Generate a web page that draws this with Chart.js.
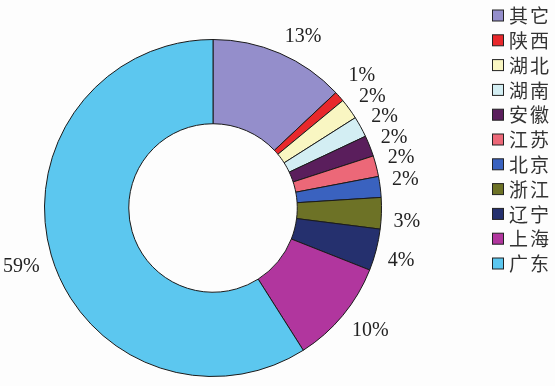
<!DOCTYPE html>
<html>
<head>
<meta charset="utf-8">
<script src="https://cdn.jsdelivr.net/npm/chart.js@4.4.0/dist/chart.umd.min.js"></script>
<style>
  html, body { margin: 0; padding: 0; background: #fdfdfd; }
  #wrap { width: 555px; height: 386px; position: relative; }
</style>
</head>
<body>
<div id="wrap"><canvas id="c" width="555" height="386"></canvas></div>
<script>
// ---- data ----
const categories = ['其它', '陕西', '湖北', '湖南', '安徽', '江苏', '北京', '浙江', '辽宁', '上海', '广东'];
const shares = [13, 1, 2, 2, 2, 2, 2, 3, 4, 10, 59];
const valueLabels = ['13%', '1%', '2%', '2%', '2%', '2%', '2%', '3%', '4%', '10%', '59%'];
const sliceColors = ['#948ecb', '#e8282c', '#f9f6c2', '#d3eef3', '#5a1e5c', '#ec6878', '#3a62bf', '#6d7226', '#25306e', '#b1369e', '#5cc7ef'];

const labelPlugin = {
  id: 'outLabels',
  afterDatasetsDraw(chart) {
    const ctx = chart.ctx;
    const meta = chart.getDatasetMeta(0);
    const font = '20px "Liberation Serif", "Times New Roman", serif';
    ctx.save();
    ctx.font = font;
    ctx.fillStyle = '#222';
    ctx.textAlign = 'center';
    ctx.textBaseline = 'middle';
    const items = [];
    meta.data.forEach((arc, i) => {
      const p = arc.getProps(['x', 'y', 'startAngle', 'endAngle', 'outerRadius'], true);
      const mid = (p.startAngle + p.endAngle) / 2;
      const r = p.outerRadius + 12;
      const ax = p.x + Math.cos(mid) * r;
      const ay = p.y + Math.sin(mid) * r;
      const text = chart.data.datasets[0].datalabelText[i];
      const w = ctx.measureText(text).width;
      const h = 14;
      const cx = ax + (Math.cos(mid) >= 0 ? w / 2 : -w / 2);
      const cy = ay + (Math.sin(mid) >= 0 ? h / 2 : -h / 2);
      items.push({ text, cx, cy, right: Math.cos(mid) >= 0 });
    });
    [true, false].forEach(side => {
      const grp = items.filter(it => it.right === side).sort((a, b) => a.cy - b.cy);
      const minGap = 20.5;
      for (let k = 0; k < 60; k++) {
        for (let j = 1; j < grp.length; j++) {
          const gap = grp[j].cy - grp[j - 1].cy;
          if (gap < minGap) {
            const s = (minGap - gap) / 2;
            grp[j - 1].cy -= s;
            grp[j].cy += s;
          }
        }
      }
    });
    items.forEach(it => ctx.fillText(it.text, it.cx, it.cy + 1));
    ctx.restore();
  }
};

const legendPlugin = {
  id: 'sideLegend',
  afterDraw(chart, args, opts) {
    const ctx = chart.ctx;
    const ds = chart.data.datasets[0];
    ctx.save();
    ctx.font = '19px "Noto Sans CJK SC", sans-serif';
    ctx.letterSpacing = '2px';
    ctx.textBaseline = 'middle';
    ctx.textAlign = 'left';
    chart.data.labels.forEach((lab, i) => {
      const y = opts.top + i * opts.rowHeight;
      ctx.fillStyle = ds.backgroundColor[i];
      ctx.fillRect(opts.boxX + 0.5, y - opts.box / 2 + 0.5, opts.box, opts.box);
      ctx.strokeStyle = '#222';
      ctx.lineWidth = 1;
      ctx.strokeRect(opts.boxX + 0.5, y - opts.box / 2 + 0.5, opts.box, opts.box);
      ctx.fillStyle = '#333';
      ctx.fillText(lab, opts.textX, y + 1);
    });
    ctx.restore();
  }
};

new Chart(document.getElementById('c'), {
  type: 'doughnut',
  data: {
    labels: categories,
    datasets: [{
      data: shares,
      datalabelText: valueLabels,
      backgroundColor: sliceColors,
      borderColor: '#1a1a1a',
      borderWidth: 1,
      hoverOffset: 0
    }]
  },
  options: {
    responsive: false,
    animation: false,
    cutout: '50%',
    layout: { padding: { left: 0, right: 129, top: 39, bottom: 9 } },
    plugins: {
      legend: { display: false },
      tooltip: { enabled: false },
      sideLegend: { boxX: 492, box: 11, textX: 509, top: 15, rowHeight: 24.8 }
    }
  },
  plugins: [labelPlugin, legendPlugin]
});
</script>
</body>
</html>
